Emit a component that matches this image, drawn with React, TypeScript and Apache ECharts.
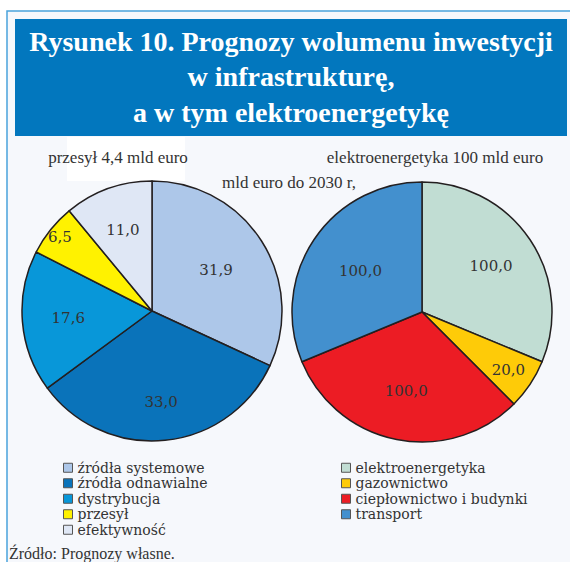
import React, { useEffect, useRef } from "react";
import * as echarts from "echarts";

// ---- data ----
const leftNames = ["źródła systemowe", "źródła odnawialne", "dystrybucja", "przesył", "efektywność"];
const leftValues = [31.9, 33.0, 17.6, 6.5, 11.0];
const rightNames = ["elektroenergetyka", "gazownictwo", "ciepłownictwo i budynki", "transport"];
const rightValues = [100.0, 20.0, 100.0, 100.0];

const titleLines = [
  "Rysunek 10. Prognozy wolumenu inwestycji",
  "w infrastrukturę,",
  "a w tym elektroenergetykę",
];
const leftCaption = "przesył 4,4 mld euro";
const rightCaption = "elektroenergetyka 100 mld euro";
const unitCaption = "mld euro do 2030 r,";
const sourceText = "Źródło: Prognozy własne.";

// ---- styles ----
const leftColors = ["#adc7e9", "#0a73ba", "#0897d9", "#fff200", "#dfe7f5"];
const rightColors = ["#c1ddd3", "#fecb08", "#ec1c24", "#4390ce"];
const leftLabelDist = [73, 88, 81, 115, 83];
const rightLabelDist = [80, 101, 78, 71];

const SERIF = "Liberation Serif";
const LABEL_SERIF = "DejaVu Serif";
const fmt = (v: number) => v.toFixed(1).replace(".", ",");

function buildPie(
  names: string[],
  values: number[],
  colors: string[],
  dists: number[],
  center: [number, number]
) {
  const main: any = {
    type: "pie",
    center,
    radius: 130,
    startAngle: 90,
    clockwise: true,
    silent: true,
    label: { show: false },
    labelLine: { show: false },
    emphasis: { disabled: true },
    data: names.map((n, i) => ({
      name: n,
      value: values[i],
      itemStyle: { color: colors[i], borderColor: "#231f20", borderWidth: 1.5 },
    })),
  };
  const overlays = dists.map((d, k) => ({
    type: "pie",
    center,
    radius: 2 * d,
    startAngle: 90,
    clockwise: true,
    silent: true,
    z: 5,
    itemStyle: { color: "rgba(0,0,0,0)", borderWidth: 0 },
    labelLine: { show: false },
    emphasis: { disabled: true },
    label: {
      position: "inside",
      formatter: (p: any) => fmt(p.value),
      fontFamily: LABEL_SERIF,
      fontSize: 15,
      color: "#333333",
    },
    data: values.map((v, j) => ({ value: v, label: { show: j === k } })),
  }));
  return [main, ...overlays];
}

export default function App() {
  const ref = useRef<HTMLDivElement>(null);
  useEffect(() => {
    document.body.style.margin = "0";
    if (!ref.current) return;
    const chart = echarts.init(ref.current, undefined, { renderer: "svg" });
    const txt = (text: string, x: number, y: number, size: number, bold: boolean, fill: string) => ({
      type: "text",
      x,
      y,
      silent: true,
      style: {
        text,
        fontFamily: SERIF,
        fontSize: size,
        fontWeight: bold ? "bold" : "normal",
        fill,
        align: "center",
        verticalAlign: "middle",
      },
    });
    const legendBase = {
      orient: "vertical",
      top: 460,
      padding: 0,
      itemGap: 0,
      itemWidth: 9,
      itemHeight: 9,
      icon: "rect",
      selectedMode: false,
      itemStyle: { borderColor: "#555555", borderWidth: 1 },
      textStyle: { fontFamily: LABEL_SERIF, fontSize: 14, color: "#333333", lineHeight: 15.5 },
    };
    chart.setOption({
      animation: false,
      backgroundColor: "#ffffff",
      graphic: [
        {
          type: "rect",
          silent: true,
          z: -10,
          shape: { x: 7, y: 11, width: 620, height: 620 },
          style: { fill: "#f6f8fc", stroke: "#4aa3dc", lineWidth: 1.5 },
        },
        {
          type: "rect",
          silent: true,
          z: -9,
          shape: { x: 15, y: 19, width: 552, height: 117 },
          style: { fill: "#0277be" },
        },
        {
          type: "rect",
          silent: true,
          z: -9,
          shape: { x: 67, y: 137, width: 118, height: 44 },
          style: { fill: "#ffffff" },
        },
        txt(titleLines[0], 291, 41, 28, true, "#ffffff"),
        txt(titleLines[1], 291, 76, 28, true, "#ffffff"),
        txt(titleLines[2], 291, 112, 28, true, "#ffffff"),
        txt(leftCaption, 118, 157, 17, false, "#333333"),
        txt(rightCaption, 435, 157, 17, false, "#333333"),
        txt(unitCaption, 289, 182, 17, false, "#333333"),
        {
          type: "text",
          x: 9,
          y: 553,
          silent: true,
          style: {
            text: sourceText,
            fontFamily: SERIF,
            fontSize: 16,
            fill: "#333333",
            align: "left",
            verticalAlign: "middle",
          },
        },
      ],
      legend: [
        { ...legendBase, data: leftNames, left: 63 },
        { ...legendBase, data: rightNames, left: 341 },
      ],
      series: [
        ...buildPie(leftNames, leftValues, leftColors, leftLabelDist, [152, 311]),
        ...buildPie(rightNames, rightValues, rightColors, rightLabelDist, [422, 312]),
      ],
    });
    return () => chart.dispose();
  }, []);
  return <div ref={ref} style={{ width: 570, height: 562 }} />;
}
